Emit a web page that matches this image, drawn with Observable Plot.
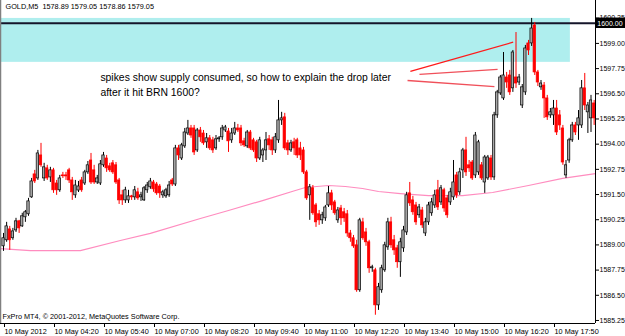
<!DOCTYPE html>
<html><head><meta charset="utf-8">
<script src="https://cdn.jsdelivr.net/npm/d3@7"></script>
<script src="https://cdn.jsdelivr.net/npm/@observablehq/plot@0.6"></script>
<style>html,body{margin:0;padding:0;background:#fff;}svg{display:block}</style>
</head><body><div id="chart"></div>
<script>
const symbolHeader = "GOLD,M5  1578.89 1579.05 1578.86 1579.05";
const footerText = "FxPro MT4, \u00a9 2001-2012, MetaQuotes Software Corp.";
const timeLabels = ["10 May 2012","10 May 04:20","10 May 05:40","10 May 07:00","10 May 08:20","10 May 09:40","10 May 11:00","10 May 12:20","10 May 13:40","10 May 15:00","10 May 16:20","10 May 17:50"];
const timeLabelBars = [0,16,32,48,64,80,96,112,128,144,160,176];
const priceTicks = [1585.25,1586.50,1587.75,1589.00,1590.25,1591.50,1592.75,1594.00,1595.25,1596.50,1597.75,1599.00,1600.25];
// M5 candles: [open, high, low, close]
const candles = [
[1588.93,1589.57,1588.68,1589.33],[1589.23,1590.12,1589.13,1589.92],[1589.77,1589.92,1588.73,1589.23],[1589.33,1589.82,1589.23,1589.67],
[1589.72,1590.32,1589.62,1590.17],[1590.17,1590.22,1589.57,1589.82],[1589.92,1590.57,1589.87,1590.42],[1590.37,1590.71,1590.12,1590.62],
[1590.52,1591.31,1590.42,1591.16],[1591.36,1592.30,1591.31,1592.15],[1592.50,1592.70,1592.05,1592.15],[1592.30,1593.69,1592.20,1593.54],
[1593.44,1594.04,1592.85,1592.95],[1592.30,1593.05,1592.15,1592.85],[1592.80,1592.95,1592.20,1592.30],[1592.35,1592.85,1592.10,1592.70],
[1592.70,1592.80,1591.56,1591.71],[1592.05,1592.20,1591.46,1591.71],[1591.71,1592.45,1591.61,1592.30],[1592.45,1592.60,1592.30,1592.43],
[1592.45,1592.60,1592.20,1592.40],[1592.70,1592.80,1592.05,1592.20],[1592.20,1592.35,1591.21,1591.61],[1591.46,1592.20,1591.31,1591.95],
[1591.70,1592.15,1591.60,1591.90],[1592.20,1592.35,1591.61,1591.71],[1592.05,1592.70,1591.95,1592.60],[1592.60,1593.14,1592.50,1592.95],
[1593.19,1593.54,1592.00,1592.10],[1592.70,1592.95,1592.00,1592.10],[1592.10,1592.45,1592.00,1592.30],[1592.05,1593.19,1591.95,1593.00],
[1592.95,1593.59,1592.85,1593.44],[1593.29,1593.44,1592.60,1592.80],[1592.90,1593.05,1592.60,1592.70],[1593.05,1593.19,1592.50,1592.60],
[1592.95,1593.09,1592.00,1592.10],[1592.20,1592.30,1591.01,1591.21],[1591.46,1591.71,1590.96,1591.21],[1591.21,1591.86,1591.06,1591.71],
[1591.21,1591.71,1591.06,1591.41],[1591.41,1591.46,1591.21,1591.36],[1591.36,1591.90,1591.21,1591.71],[1591.61,1591.81,1591.21,1591.31],
[1591.36,1591.61,1591.16,1591.46],[1591.21,1591.90,1591.16,1591.81],[1591.71,1592.10,1591.56,1591.95],[1591.86,1592.30,1591.76,1592.15],
[1592.10,1592.20,1591.61,1591.76],[1592.00,1592.10,1591.46,1591.56],[1591.90,1592.00,1591.31,1591.56],[1591.46,1591.71,1591.31,1591.61],
[1591.41,1591.81,1591.31,1591.71],[1591.46,1592.15,1591.36,1591.95],[1592.20,1592.30,1591.90,1592.00],[1592.00,1593.94,1591.90,1593.79],
[1593.79,1593.94,1593.19,1593.44],[1593.29,1594.04,1593.19,1593.94],[1593.89,1594.78,1593.79,1594.58],[1594.53,1595.18,1594.43,1594.78],
[1594.78,1594.93,1594.29,1594.43],[1594.78,1594.93,1593.44,1593.59],[1593.69,1594.78,1593.59,1594.68],[1594.68,1594.83,1594.09,1594.34],
[1594.53,1594.68,1593.94,1594.04],[1594.09,1594.53,1593.79,1594.29],[1594.29,1594.43,1593.69,1593.79],[1594.19,1594.34,1593.54,1593.69],
[1593.79,1594.43,1593.69,1594.24],[1594.24,1594.38,1594.09,1594.29],[1594.34,1594.93,1594.19,1594.78],[1594.68,1594.93,1594.58,1594.83],
[1594.63,1594.78,1593.59,1594.14],[1594.19,1594.78,1594.04,1594.53],[1594.53,1595.08,1594.43,1594.78],[1594.78,1594.98,1594.58,1594.68],
[1594.78,1594.93,1593.89,1594.04],[1594.14,1594.29,1593.84,1593.94],[1593.89,1594.68,1593.79,1594.58],[1594.58,1594.68,1593.69,1593.79],
[1594.19,1594.29,1593.59,1593.69],[1594.09,1594.19,1593.09,1593.29],[1593.29,1594.34,1593.19,1594.19],[1593.44,1593.79,1593.09,1593.69],
[1593.69,1594.58,1593.19,1594.19],[1594.24,1594.43,1593.69,1593.94],[1594.19,1594.34,1593.44,1593.69],[1593.69,1594.53,1593.54,1594.34],
[1594.19,1596.17,1594.04,1595.18],[1595.18,1595.58,1594.93,1595.28],[1595.33,1595.53,1593.69,1593.79],[1594.04,1594.19,1593.44,1593.69],
[1593.69,1594.19,1593.59,1594.04],[1594.09,1594.29,1593.44,1593.79],[1594.19,1594.29,1593.29,1593.44],[1593.79,1594.09,1593.19,1593.44],
[1593.69,1593.84,1592.50,1592.60],[1592.60,1592.70,1591.21,1591.31],[1591.46,1592.00,1590.22,1591.86],[1591.81,1591.95,1590.47,1590.57],
[1590.96,1591.06,1589.87,1590.12],[1590.52,1590.71,1589.97,1590.22],[1590.22,1590.62,1590.02,1590.47],[1590.32,1590.96,1590.17,1590.86],
[1590.96,1591.90,1590.86,1591.56],[1591.56,1591.71,1590.71,1590.96],[1591.11,1591.21,1590.47,1590.57],[1590.22,1590.86,1590.07,1590.71],
[1590.81,1590.96,1589.97,1590.32],[1590.62,1590.81,1590.12,1590.32],[1590.52,1590.71,1589.38,1589.57],[1589.57,1589.72,1589.13,1589.33],
[1589.33,1589.47,1588.83,1588.93],[1588.98,1589.23,1586.65,1586.75],[1586.75,1590.32,1586.65,1590.22],[1590.12,1590.32,1589.23,1589.33],
[1589.62,1589.82,1588.93,1589.13],[1589.13,1589.23,1587.59,1587.84],[1587.84,1587.99,1587.64,1587.89],[1587.74,1587.84,1585.51,1586.00],
[1586.00,1587.09,1585.75,1586.90],[1586.75,1587.99,1586.60,1587.84],[1587.74,1589.13,1587.64,1588.98],[1588.88,1590.32,1588.73,1590.12],
[1590.12,1590.37,1588.83,1588.98],[1589.23,1589.47,1588.48,1588.73],[1588.83,1588.98,1587.84,1588.14],[1588.14,1589.33,1587.39,1589.13],
[1588.83,1589.92,1588.63,1589.72],[1589.62,1591.61,1589.47,1591.46],[1591.56,1592.10,1590.91,1591.06],[1591.21,1591.41,1590.47,1590.62],
[1590.96,1591.11,1589.97,1590.12],[1590.47,1591.01,1590.32,1590.86],[1590.71,1590.86,1589.82,1589.97],[1589.57,1590.32,1589.42,1590.12],
[1590.12,1591.11,1589.97,1590.96],[1590.57,1591.31,1590.42,1591.11],[1590.96,1591.71,1590.81,1591.46],[1591.71,1592.20,1590.71,1590.86],
[1591.11,1591.95,1590.96,1591.81],[1591.71,1591.81,1590.62,1590.81],[1591.31,1591.46,1590.32,1590.47],[1591.11,1591.81,1590.96,1591.61],
[1591.36,1593.19,1591.21,1592.10],[1592.45,1592.60,1591.31,1591.46],[1591.61,1592.80,1591.46,1592.60],[1592.70,1593.79,1592.30,1593.69],
[1593.69,1594.34,1592.40,1592.60],[1592.95,1593.19,1592.60,1592.80],[1593.09,1593.19,1592.20,1592.30],[1592.45,1594.58,1592.30,1594.43],
[1592.60,1594.19,1592.45,1594.09],[1592.95,1593.09,1592.20,1592.30],[1592.10,1593.44,1591.56,1593.34],[1592.30,1593.44,1592.20,1593.34],
[1593.29,1593.44,1592.20,1592.35],[1592.35,1595.58,1592.20,1595.43],[1595.43,1596.67,1595.28,1596.57],[1596.52,1597.41,1596.42,1597.31],
[1596.27,1598.55,1596.17,1597.41],[1597.31,1597.56,1596.77,1597.06],[1597.41,1597.66,1596.42,1596.57],[1596.77,1598.65,1596.57,1598.55],
[1597.31,1599.54,1596.77,1597.01],[1597.06,1597.46,1596.91,1597.31],[1595.92,1596.96,1595.77,1596.82],[1596.57,1598.90,1596.42,1598.75],
[1599.00,1599.15,1598.40,1598.65],[1599.00,1600.24,1598.85,1599.74],[1599.89,1600.04,1597.41,1597.56],[1597.56,1597.66,1596.86,1597.06],
[1596.82,1597.16,1596.67,1597.01],[1596.91,1597.06,1595.28,1596.27],[1596.27,1596.42,1595.18,1595.33],[1595.43,1595.77,1595.28,1595.58],
[1595.43,1596.17,1594.93,1595.77],[1595.77,1596.17,1594.43,1594.58],[1595.43,1595.67,1594.68,1594.93],[1594.78,1594.93,1592.95,1593.09],
[1592.45,1593.19,1592.30,1592.95],[1593.19,1594.29,1593.05,1594.19],[1594.19,1595.08,1594.09,1594.93],[1594.93,1595.08,1594.43,1594.58],
[1594.93,1595.67,1594.19,1595.28],[1594.93,1597.16,1594.78,1596.77],[1596.77,1597.51,1595.67,1595.92],[1595.58,1596.07,1594.53,1595.92],
[1595.28,1596.42,1594.58,1596.17],[1596.02,1596.17,1594.93,1595.28]
];
// moving average, read at sample bars
const maBars =   [-0.96, 8.6, 24.6, 37.4, 47, 63, 72, 82.9, 93.4, 96.6, 104, 109.4, 114.9, 120, 127, 136, 146.9, 156.5, 168, 178.9, 189.4];
const maPrices = [1588.82,1588.72,1588.72,1589.22,1589.57,1590.31,1590.71,1591.20,1591.70,1591.85,1591.95,1591.90,1591.80,1591.65,1591.55,1591.45,1591.45,1591.60,1591.95,1592.30,1592.54];
// supply zone rectangle (price band) and horizontal level
const zoneTop = 1600.24, zoneBottom = 1598.06, zoneEndBar = 181.4;
const levelPrice = 1600.00;
// annotation
const noteLines = ["spikes show supply consumed, so how to explain the drop later", "after it hit BRN 1600?"];
const noteBars = [31, 31];
const notePrices = [1597.30, 1596.55];
const trendFromBar = [130.2, 133.1, 129.3];
const trendFromPrice = [1597.61, 1597.46, 1597.16];
const trendToBar = [163.1, 158.1, 157.1];
const trendToPrice = [1599.06, 1597.71, 1596.86];
const trendColors = ["#ff1a1a", "#f0505a", "#f0505a"];

const X_MIN = -0.96, X_MAX = 189.44, Y_MIN = 1585.10, Y_MAX = 1601.13;
const bars = candles.map(([o, h, l, c], i) => ({i, o, h, l, c, up: c >= o}));
const ma = maBars.map((b, k) => ({b, p: maPrices[k]}));
const notes = noteLines.map((t, k) => ({t, b: noteBars[k], p: notePrices[k]}));
const trends = trendFromBar.map((b, k) => ({b1: b, p1: trendFromPrice[k], b2: trendToBar[k], p2: trendToPrice[k], col: trendColors[k]}));
const fmt = d3.format(".2f");
const FONT = "'Liberation Sans', Arial, sans-serif";

const chart = Plot.plot({
  width: 625, height: 336,
  marginLeft: 0, marginRight: 30, marginTop: 0, marginBottom: 13,
  x: {domain: [X_MIN, X_MAX]},
  y: {domain: [Y_MIN, Y_MAX]},
  style: {fontFamily: FONT, fontSize: "7.3px", background: "#fff", color: "#000"},
  marks: [
    Plot.rect([zoneTop], {x1: -3, x2: zoneEndBar, y1: zoneBottom, y2: d => d, fill: "#afeeee"}),
    Plot.line(ma, {x: "b", y: "p", stroke: "#ff8cbf", strokeWidth: 1.2}),
    Plot.ruleY([levelPrice], {stroke: "#15152a", strokeWidth: 2}),
    Plot.link(trends, {x1: "b1", y1: "p1", x2: "b2", y2: "p2", stroke: "col", strokeWidth: 1.3}),
    Plot.ruleX(bars, {x: "i", y1: "l", y2: "h", stroke: d => d.up ? "#000000" : "#ff0000", strokeWidth: 1}),
    Plot.rect(bars, {x1: d => d.i - 0.38, x2: d => d.i + 0.38, y1: "o",
      y2: d => Math.abs(d.c - d.o) < 0.04 ? d.o + (d.up ? 0.04 : -0.04) : d.c,
      fill: d => d.up ? "#a8a8a8" : "#ff0000", stroke: d => d.up ? "#000000" : "#ff0000", strokeWidth: 0.7}),
    Plot.ruleX([X_MIN], {stroke: "#808080", strokeWidth: 1.5}),
    Plot.ruleX([X_MAX], {stroke: "#000"}),
    Plot.ruleY([Y_MIN], {stroke: "#000"}),
    Plot.axisY({anchor: "right", ticks: priceTicks, tickFormat: fmt, tickSize: 3, tickPadding: 1, fontSize: 7, label: null}),
    Plot.axisX({ticks: timeLabelBars, tickFormat: d => timeLabels[timeLabelBars.indexOf(d)], tickSize: 4, tickPadding: 1, textAnchor: "start", dx: 1, label: null}),
    Plot.rect([levelPrice], {x1: 189.6, x2: 200, y1: d => d - 0.26, y2: d => d + 0.26, fill: "#000"}),
    Plot.text([levelPrice], {x: 190.0, y: d => d, text: d => fmt(d), fill: "#fff", textAnchor: "start", fontSize: 7}),
    Plot.text([symbolHeader], {frameAnchor: "top-left", dx: 5, dy: 3, lineAnchor: "top", textAnchor: "start"}),
    Plot.text([footerText], {frameAnchor: "bottom-left", dx: 2, dy: -5, lineAnchor: "bottom", textAnchor: "start"}),
    Plot.text(notes, {x: "b", y: "p", text: "t", textAnchor: "start", fontSize: 10.4, fill: "#000"})
  ]
});
document.getElementById("chart").appendChild(chart);
</script>
</body></html>
